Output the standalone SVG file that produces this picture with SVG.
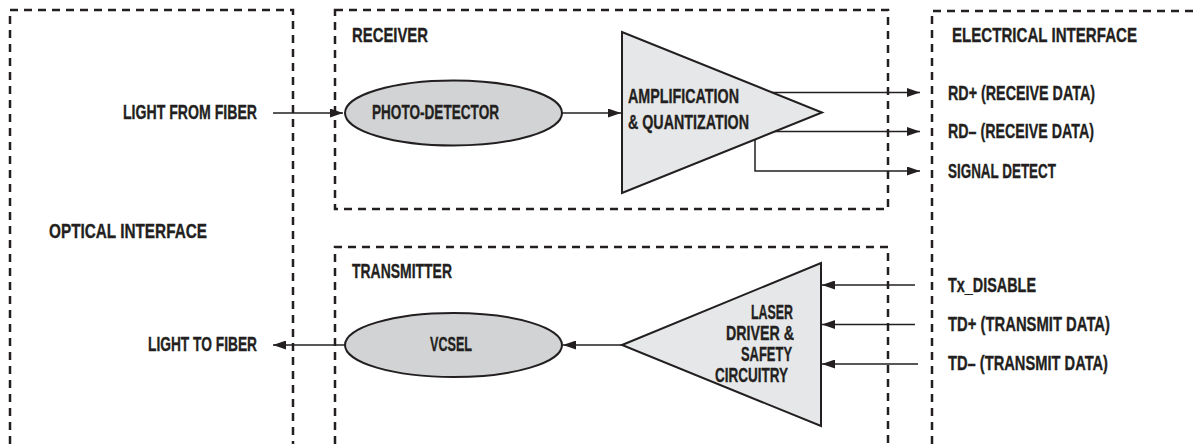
<svg xmlns="http://www.w3.org/2000/svg" width="1195" height="444" viewBox="0 0 1195 444">
<style>
.box{fill:none;stroke:#231f20;stroke-width:2.5;stroke-dasharray:8 6}
.wire{fill:none;stroke:#231f20;stroke-width:1.5}
.shape{stroke:#231f20;stroke-width:2}
.t{font-family:"Liberation Sans Narrow","Liberation Sans",Arial,sans-serif;font-weight:bold;font-size:21px;fill:#231f20;stroke:#231f20;stroke-width:0.35}
</style>
<defs>
<marker id="ah" markerUnits="userSpaceOnUse" viewBox="0 0 13 9" markerWidth="13" markerHeight="9" refX="13" refY="4.5" orient="auto">
<path d="M0,0 L13,4.5 L0,9 Z" fill="#231f20"/>
</marker>
</defs>
<rect width="1195" height="444" fill="#ffffff"/>
<g id="optical-interface">
<path class="box" d="M10,444 V10 H293 V444"/>
<text class="t" x="49" y="238" textLength="158" lengthAdjust="spacingAndGlyphs">OPTICAL INTERFACE</text>
<text class="t" x="123" y="118.5" textLength="134" lengthAdjust="spacingAndGlyphs">LIGHT FROM FIBER</text>
<text class="t" x="148" y="350.5" textLength="109" lengthAdjust="spacingAndGlyphs">LIGHT TO FIBER</text>
</g>
<g id="receiver">
<rect class="box" x="335" y="10" width="553" height="199"/>
<text class="t" x="352" y="41.5" textLength="76" lengthAdjust="spacingAndGlyphs">RECEIVER</text>
</g>
<g id="transmitter">
<path class="box" d="M335,444 V247 H888 V444"/>
<text class="t" x="352" y="278" textLength="100" lengthAdjust="spacingAndGlyphs">TRANSMITTER</text>
</g>
<g id="electrical-interface">
<path class="box" d="M932,444 V11 H1195"/>
<text class="t" x="952" y="42" textLength="185" lengthAdjust="spacingAndGlyphs">ELECTRICAL INTERFACE</text>
<text class="t" x="948" y="99.5" textLength="147" lengthAdjust="spacingAndGlyphs">RD+ (RECEIVE DATA)</text>
<text class="t" x="948" y="138" textLength="146" lengthAdjust="spacingAndGlyphs">RD– (RECEIVE DATA)</text>
<text class="t" x="948" y="177.5" textLength="108" lengthAdjust="spacingAndGlyphs">SIGNAL DETECT</text>
<text class="t" x="948" y="292" textLength="88" lengthAdjust="spacingAndGlyphs">Tx_DISABLE</text>
<text class="t" x="948" y="331" textLength="162" lengthAdjust="spacingAndGlyphs">TD+ (TRANSMIT DATA)</text>
<text class="t" x="948" y="370" textLength="160" lengthAdjust="spacingAndGlyphs">TD– (TRANSMIT DATA)</text>
</g>
<g id="photo-detector">
<ellipse class="shape" cx="453.5" cy="113" rx="108.5" ry="32.5" fill="#d1d3d4"/>
<text class="t" x="372" y="119" textLength="127" lengthAdjust="spacingAndGlyphs">PHOTO-DETECTOR</text>
</g>
<g id="amplifier">
<polygon class="shape" points="622,32 622,193 822,112.5" fill="#e6e7e8"/>
<text class="t" x="628" y="103" textLength="111" lengthAdjust="spacingAndGlyphs">AMPLIFICATION</text>
<text class="t" x="628" y="129" textLength="121" lengthAdjust="spacingAndGlyphs">&amp; QUANTIZATION</text>
</g>
<g id="vcsel">
<ellipse class="shape" cx="453.5" cy="345" rx="108.5" ry="32" fill="#d1d3d4"/>
<text class="t" x="430" y="351" textLength="42" lengthAdjust="spacingAndGlyphs">VCSEL</text>
</g>
<g id="laser-driver">
<polygon class="shape" points="622,345 821,263 821,426" fill="#e6e7e8"/>
<text class="t" x="751" y="319" textLength="42" lengthAdjust="spacingAndGlyphs">LASER</text>
<text class="t" x="726" y="340" textLength="68" lengthAdjust="spacingAndGlyphs">DRIVER &amp;</text>
<text class="t" x="741" y="361" textLength="51" lengthAdjust="spacingAndGlyphs">SAFETY</text>
<text class="t" x="715" y="382" textLength="73" lengthAdjust="spacingAndGlyphs">CIRCUITRY</text>
</g>
<g id="connectors">
<line class="wire" x1="273" y1="113" x2="343" y2="113" marker-end="url(#ah)"/>
<line class="wire" x1="562" y1="113" x2="621" y2="113" marker-end="url(#ah)"/>
<line class="wire" x1="772" y1="92.5" x2="920" y2="92.5" marker-end="url(#ah)"/>
<line class="wire" x1="775" y1="131.5" x2="920" y2="131.5" marker-end="url(#ah)"/>
<polyline class="wire" points="755,140 755,171 920,171" marker-end="url(#ah)"/>
<line class="wire" x1="915" y1="285" x2="822" y2="285" marker-end="url(#ah)"/>
<line class="wire" x1="915" y1="324.5" x2="822" y2="324.5" marker-end="url(#ah)"/>
<line class="wire" x1="918" y1="364" x2="822" y2="364" marker-end="url(#ah)"/>
<line class="wire" x1="622" y1="345" x2="563" y2="345" marker-end="url(#ah)"/>
<line class="wire" x1="345" y1="345" x2="273" y2="345" marker-end="url(#ah)"/>
</g>
</svg>
